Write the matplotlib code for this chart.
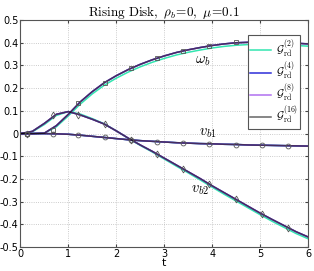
import matplotlib
matplotlib.use("Agg")
import matplotlib.pyplot as plt
from matplotlib.ticker import FuncFormatter

plt.rcParams['mathtext.fontset'] = 'cm'

# time grid for the curves
t = [0, 0.25, 0.5, 0.75, 1.0, 1.25, 1.5, 1.75, 2.0, 2.25, 2.5, 2.75, 3.0,
     3.25, 3.5, 3.75, 4.0, 4.25, 4.5, 4.75, 5.0, 5.25, 5.5, 5.75, 6.0]

# converged curves (G4, G8, G16 lie on top of each other)
omega_b = [0, 0, 0.002, 0.035, 0.085, 0.14, 0.185, 0.224, 0.255, 0.282, 0.305,
           0.325, 0.342, 0.357, 0.369, 0.379, 0.388, 0.395, 0.400, 0.402, 0.403,
           0.402, 0.400, 0.398, 0.395]
v_b1 = [0, 0, 0, -0.001, -0.003, -0.007, -0.012, -0.017, -0.022, -0.027, -0.031,
        -0.034, -0.037, -0.040, -0.042, -0.044, -0.045, -0.047, -0.048, -0.050,
        -0.051, -0.052, -0.053, -0.054, -0.055]
v_b2 = [0, 0.01, 0.045, 0.085, 0.097, 0.082, 0.063, 0.042, 0.012, -0.02, -0.05,
        -0.078, -0.108, -0.138, -0.168, -0.198, -0.23, -0.26, -0.29, -0.32,
        -0.35, -0.378, -0.405, -0.432, -0.455]

# coarse G2 curves
omega_b_g2 = [0, 0, 0.002, 0.03, 0.078, 0.13, 0.175, 0.213, 0.244, 0.271, 0.294,
              0.314, 0.331, 0.346, 0.358, 0.368, 0.377, 0.384, 0.389, 0.392,
              0.393, 0.392, 0.390, 0.388, 0.385]
v_b2_g2 = [0, 0.008, 0.04, 0.08, 0.097, 0.086, 0.066, 0.043, 0.012, -0.021,
           -0.052, -0.081, -0.112, -0.143, -0.173, -0.204, -0.236, -0.267,
           -0.297, -0.327, -0.357, -0.386, -0.413, -0.44, -0.463]

# marker samples
t_mark = [0.13, 0.67, 1.21, 1.76, 2.31, 2.85, 3.40, 3.94, 4.49, 5.03, 5.58]
omega_mark = [0, 0.018, 0.133, 0.225, 0.287, 0.333, 0.365, 0.387, 0.403, 0.403, 0.400]
v1_mark = [0, 0, -0.007, -0.017, -0.029, -0.035, -0.041, -0.044, -0.049, -0.052, -0.055]
v2_mark = [0, 0.08, 0.083, 0.042, -0.027, -0.09, -0.156, -0.222, -0.29, -0.355, -0.414]

labels = [r'$\mathcal{G}_{\rm rd}^{(2)}$', r'$\mathcal{G}_{\rm rd}^{(4)}$',
          r'$\mathcal{G}_{\rm rd}^{(8)}$', r'$\mathcal{G}_{\rm rd}^{(16)}$']
colors = ['#33e6b0', '#2e2ed8', '#b070f0', 'black']

fig = plt.figure(figsize=(3.14, 2.71), dpi=100)
ax = fig.add_axes([0.065, 0.088, 0.916, 0.838])

series = [(omega_b_g2, v_b1, v_b2_g2), (omega_b, v_b1, v_b2),
          (omega_b, v_b1, v_b2), (omega_b, v_b1, v_b2)]
handles = []
for i, (w, a, b) in enumerate(series):
    alpha = 0.6 if i == 3 else 1.0
    for ys in (w, a, b):
        ln, = ax.plot(t, ys, color=colors[i], lw=1.1, alpha=alpha)
    handles.append(ln)

mk = dict(ls='none', mfc='none', mec='#555555', mew=0.6, ms=3.5)
ax.plot(t_mark, omega_mark, marker='s', **mk)
ax.plot(t_mark, v1_mark, marker='o', **mk)
ax.plot(t_mark, v2_mark, marker='d', **mk)

ax.text(3.8, 0.32, r'$\omega_b$', fontsize=10.5, ha='center', va='center')
ax.text(3.92, 0.006, r'$v_{b1}$', fontsize=10.5, ha='center', va='center')
ax.text(3.75, -0.245, r'$v_{b2}$', fontsize=10.5, ha='center', va='center')

ax.set_xlim(0, 6)
ax.set_ylim(-0.5, 0.5)
ax.set_xticks(range(7))
ax.set_yticks([-0.5, -0.4, -0.3, -0.2, -0.1, 0, 0.1, 0.2, 0.3, 0.4, 0.5])
ax.yaxis.set_major_formatter(FuncFormatter(lambda v, p: '0' if abs(v) < 1e-9 else ('%g' % v)))
ax.tick_params(direction='in', labelsize=7, length=2.5, top=True, right=True,
               pad=1.5, color='#444444')
ax.grid(True, ls=':', color='#bbbbbb', lw=0.6)
for s in ax.spines.values():
    s.set_color('#555555')
    s.set_linewidth(0.8)
ax.set_xlabel('t', fontsize=8, labelpad=-1)
ax.set_title(r'$\mathrm{Rising\ Disk,}\ \rho_b\!=\!0,\ \mu\!=\!0.1$', fontsize=9.5, pad=3)

leg = ax.legend(handles, labels, loc='upper right', bbox_to_anchor=(0.972, 0.932),
                borderaxespad=0, fontsize=8, fancybox=False, framealpha=1,
                edgecolor='#555555', handlelength=1.9, labelspacing=0.0,
                borderpad=0.2, handletextpad=0.4)
leg.get_frame().set_linewidth(0.8)

fig.savefig('out.png', dpi=100)
